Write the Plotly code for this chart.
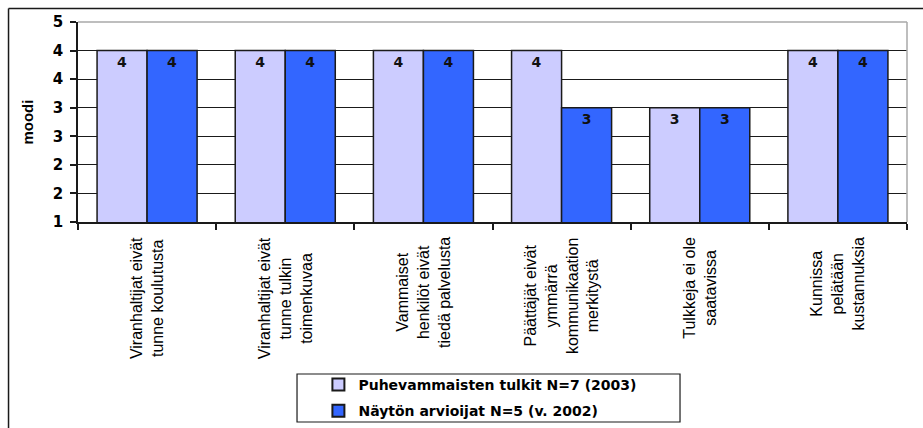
import plotly.graph_objects as go

# Survey item labels (category axis)
categories = [
    "Viranhaltijat eivät<br>tunne koulutusta",
    "Viranhaltijat eivät<br>tunne tulkin<br>toimenkuvaa",
    "Vammaiset<br>henkilöt eivät<br>tiedä palvelusta",
    "Päättäjät eivät<br>ymmärrä<br>kommunikaation<br>merkitystä",
    "Tulkkeja ei ole<br>saatavissa",
    "Kunnissa<br>pelätään<br>kustannuksia",
]

# Mode values per respondent group
series_names = [
    "Puhevammaisten tulkit N=7 (2003)",
    "Näytön arvioijat N=5 (v. 2002)",
]
tulkit_values = [4, 4, 4, 4, 3, 4]
arvioijat_values = [4, 4, 4, 3, 3, 4]

# Y axis ticks (labels shown rounded to whole numbers)
y_tick_vals = [1, 1.5, 2, 2.5, 3, 3.5, 4, 4.5]
y_tick_text = ["1", "2", "2", "3", "3", "4", "4", "5"]
y_title = "moodi"

colors = ["#CCCCFF", "#3366FF"]
bold_font = "DejaVu Sans"
label_font = "Liberation Sans, Arial"

fig = go.Figure()
for name, vals, col, grp in zip(series_names, [tulkit_values, arvioijat_values], colors, ["a", "b"]):
    fig.add_trace(go.Bar(
        x=categories,
        y=vals,
        name=name,
        legendgroup=grp,
        marker=dict(color=col, line=dict(color="#1a1a1a", width=1.5)),
        texttemplate="%{y}",
        textposition="inside",
        insidetextanchor="end",
        textangle=0,
        textfont=dict(family=bold_font, size=14, color="#111111", weight="bold"),
        cliponaxis=True,
    ))

# Category labels, rotated and centred under each group
for cat in categories:
    fig.add_annotation(
        x=cat, xref="x",
        y=-0.065, yref="paper",
        text=cat,
        textangle=-90,
        xanchor="center", yanchor="top",
        align="center",
        showarrow=False,
        font=dict(family=label_font, size=16, color="#000000"),
    )

# Y axis title
fig.add_annotation(
    x=-0.062, xref="paper", y=0.5, yref="paper",
    text=y_title,
    textangle=-90, showarrow=False,
    xanchor="center", yanchor="middle",
    font=dict(family="Liberation Sans, Arial", size=15, color="#000000", weight="bold"),
)

shapes = [
    # outer chart frame (left and top edges)
    dict(type="line", xref="paper", yref="paper", x0=-0.0838, x1=-0.0838, y0=-1.2, y1=1.0675,
         line=dict(color="#1a1a1a", width=1.5), layer="above"),
    dict(type="line", xref="paper", yref="paper", x0=-0.0838, x1=1.05, y0=1.0675, y1=1.0675,
         line=dict(color="#1a1a1a", width=1.5), layer="above"),
    # light plot-area border on top and right
    dict(type="line", xref="paper", yref="paper", x0=0, x1=1, y0=1, y1=1,
         line=dict(color="#A8A8A8", width=1.5), layer="above"),
    dict(type="line", xref="paper", yref="paper", x0=1, x1=1, y0=0, y1=1,
         line=dict(color="#A8A8A8", width=1.5), layer="above"),
    # legend frame
    dict(type="rect", xref="paper", yref="paper", x0=0.2642, x1=0.7262, y0=-1.0, y1=-0.76,
         line=dict(color="#1a1a1a", width=1.2), fillcolor="rgba(0,0,0,0)", layer="above"),
]

fig.update_layout(
    width=923, height=428,
    margin=dict(l=78, r=16, t=22, b=206, autoexpand=False),
    paper_bgcolor="white", plot_bgcolor="white",
    barmode="group", bargap=0.276, bargroupgap=0,
    shapes=shapes,
    showlegend=True,
    legend=dict(
        x=0.29, xanchor="left", y=-0.735, yanchor="top",
        orientation="v",
        traceorder="grouped", tracegroupgap=5,
        bgcolor="rgba(0,0,0,0)", borderwidth=0,
        font=dict(family=bold_font, size=14, color="#000000", weight="bold"),
        itemsizing="constant",
    ),
    xaxis=dict(
        type="category",
        showticklabels=False,
        tickson="boundaries",
        ticks="outside", ticklen=6, tickcolor="#1a1a1a", tickwidth=1.5,
        showline=True, linecolor="#1a1a1a", linewidth=1.5,
        showgrid=False, zeroline=False,
        fixedrange=True,
    ),
    yaxis=dict(
        range=[1, 4.5],
        tickmode="array", tickvals=y_tick_vals, ticktext=y_tick_text,
        ticks="outside", ticklen=6, tickcolor="#1a1a1a", tickwidth=1.5,
        ticklabelstandoff=4,
        tickfont=dict(family=bold_font, size=15, color="#000000", weight="bold"),
        showline=True, linecolor="#1a1a1a", linewidth=1.5,
        showgrid=True, gridcolor="#1a1a1a", gridwidth=1.2,
        zeroline=False,
        fixedrange=True,
    ),
)

fig.write_html("out.html")
